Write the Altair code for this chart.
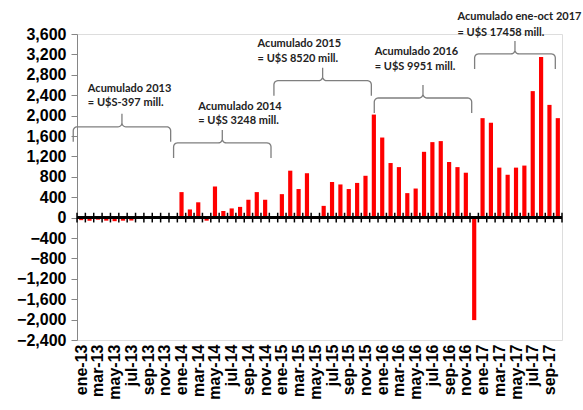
import math
import altair as alt
import pandas as pd

# ---------------- data ----------------
months = ["ene", "feb", "mar", "abr", "may", "jun", "jul", "ago", "sep", "oct", "nov", "dic"]
years = [13, 14, 15, 16, 17]
labels = [f"{m}-{y}" for y in years for m in months][:58]

v2013 = [-50, -60, -40, -60, -70, -60, -57, 0, 0, 0, 0, 0]
v2014 = [500, 160, 300, -60, 610, 130, 180, 210, 350, 500, 350, 20]
v2015 = [460, 920, 560, 870, 0, 230, 700, 650, 560, 680, 820, 2020]
v2016 = [1570, 1070, 990, 480, 570, 1290, 1480, 1500, 1090, 990, 880, -2010]
v2017 = [1950, 1860, 980, 840, 980, 1020, 2480, 3150, 2210, 1950]
values = v2013 + v2014 + v2015 + v2016 + v2017

acc_titles = ["Acumulado 2013", "Acumulado 2014", "Acumulado 2015",
              "Acumulado 2016", "Acumulado ene-oct 2017"]
acc_values = ["= U$S-397 mill.", "= U$S 3248 mill.", "= U$S 8520 mill.",
              "= U$S 9951 mill.", "= U$S 17458 mill."]

# annotation layout (month-index / value units)
year_start = [0, 12, 24, 36, 48]
year_end = [12, 24, 36, 48, 58]
brace_level = [1780, 1465, 2685, 2345, 3210]
text_x = [1.3, 14.5, 21.6, 35.6, 45.5]
title_y = [2528, 2173, 3403, 3256, 3924]
value_y = [2252, 1898, 3112, 2960, 3629]

# ---------------- geometry ----------------
W, H = 485, 306
N = 58
YMIN, YMAX = -2400, 3600
sx = W / N                 # px per month
sy = H / (YMAX - YMIN)     # px per value unit

bars = pd.DataFrame({"idx": list(range(N)), "label": labels, "value": values})
bounds = pd.DataFrame({"b": list(range(N + 1))})


def brace_points(a, b, level, r=4.0, tip=13.0, drop=15.0):
    xa, xb = a * sx, b * sx
    xc = (xa + xb) / 2
    yl = level * sy
    pts = [(xa, yl - drop)]
    steps = 6
    for k in range(steps + 1):
        t = math.pi - (math.pi / 2) * k / steps
        pts.append((xa + r + r * math.cos(t), yl - r + r * math.sin(t)))
    for k in range(steps + 1):
        t = -math.pi / 2 + (math.pi / 2) * k / steps
        pts.append((xc - r + r * math.cos(t), yl + r + r * math.sin(t)))
    pts.append((xc, yl + tip))
    for k in range(steps + 1):
        t = math.pi + (math.pi / 2) * k / steps
        pts.append((xc + r + r * math.cos(t), yl + r + r * math.sin(t)))
    for k in range(steps + 1):
        t = math.pi / 2 - (math.pi / 2) * k / steps
        pts.append((xb - r + r * math.cos(t), yl - r + r * math.sin(t)))
    pts.append((xb, yl - drop))
    return [(px / sx, py / sy) for px, py in pts]


brace_rows = []
for i in range(5):
    pts = brace_points(year_start[i] - 0.45, year_end[i] - 0.8, brace_level[i])
    for j, (bx, by) in enumerate(pts):
        brace_rows.append({"brace": i, "seq": j, "bx": bx, "by": by})
braces = pd.DataFrame(brace_rows)

texts = pd.DataFrame({
    "tx": text_x + text_x,
    "ty": title_y + value_y,
    "txt": acc_titles + acc_values,
})

# ---------------- chart ----------------
xscale = alt.Scale(domain=[0, N], nice=False, zero=False)
yscale = alt.Scale(domain=[YMIN, YMAX], nice=False, zero=False)

label_js = "[" + ",".join(f"'{l}'" for l in labels) + "][floor(datum.value)]"

x_axis = alt.Axis(
    values=[i + 0.5 for i in range(0, N, 2)],
    labelExpr=label_js,
    ticks=False, domain=False, grid=False,
    labelAngle=270, labelFlush=False, labelOverlap=False,
    labelFont="Liberation Sans", labelFontSize=16, labelFontWeight="bold",
    labelColor="black", labelPadding=4, title=None,
)
y_axis = alt.Axis(
    values=list(range(YMIN, YMAX + 1, 400)), format=",d",
    grid=False, domainColor="#868686", tickColor="#868686", tickSize=6,
    labelFont="Liberation Sans", labelFontSize=16, labelFontWeight="bold",
    labelColor="black", labelPadding=5, title=None, labelFlush=False,
    labelOverlap=False,
)

bar_layer = alt.Chart(bars).transform_calculate(
    x0="datum.idx + 0.25", x1="datum.idx + 0.75"
).mark_bar(color="#FF0000").encode(
    x=alt.X("x0:Q", scale=xscale, axis=x_axis),
    x2="x1:Q",
    y=alt.Y("value:Q", scale=yscale, axis=y_axis),
    y2=alt.datum(0),
)

zero_line = alt.Chart(bars).mark_rule(color="black", strokeWidth=2).encode(
    y=alt.Y(datum=0, scale=yscale, axis=y_axis)
)

cross_ticks = alt.Chart(bounds).mark_rule(color="black", strokeWidth=1.5).encode(
    x=alt.X("b:Q", scale=xscale, axis=x_axis),
    y=alt.Y(datum=-95, scale=yscale, axis=y_axis),
    y2=alt.datum(95),
)

brace_layer = alt.Chart(braces).mark_line(color="#7f7f7f", strokeWidth=1.3).encode(
    x=alt.X("bx:Q", scale=xscale, axis=x_axis),
    y=alt.Y("by:Q", scale=yscale, axis=y_axis),
    detail="brace:N",
    order="seq:Q",
)

text_layer = alt.Chart(texts).mark_text(
    align="left", baseline="middle", font="Lato", fontSize=11,
    fontWeight="bold", color="#222222",
).encode(
    x=alt.X("tx:Q", scale=xscale, axis=x_axis),
    y=alt.Y("ty:Q", scale=yscale, axis=y_axis),
    text="txt:N",
)

chart = alt.layer(bar_layer, zero_line, cross_ticks, brace_layer, text_layer).properties(
    width=W, height=H,
    autosize=alt.AutoSizeParams(type="none"),
    padding={"left": 77, "top": 34, "right": 21, "bottom": 70},
).configure_view(stroke="#868686", strokeWidth=1).configure(background="white")

chart.save("out.html", embed_options={"renderer": "svg", "actions": False})
